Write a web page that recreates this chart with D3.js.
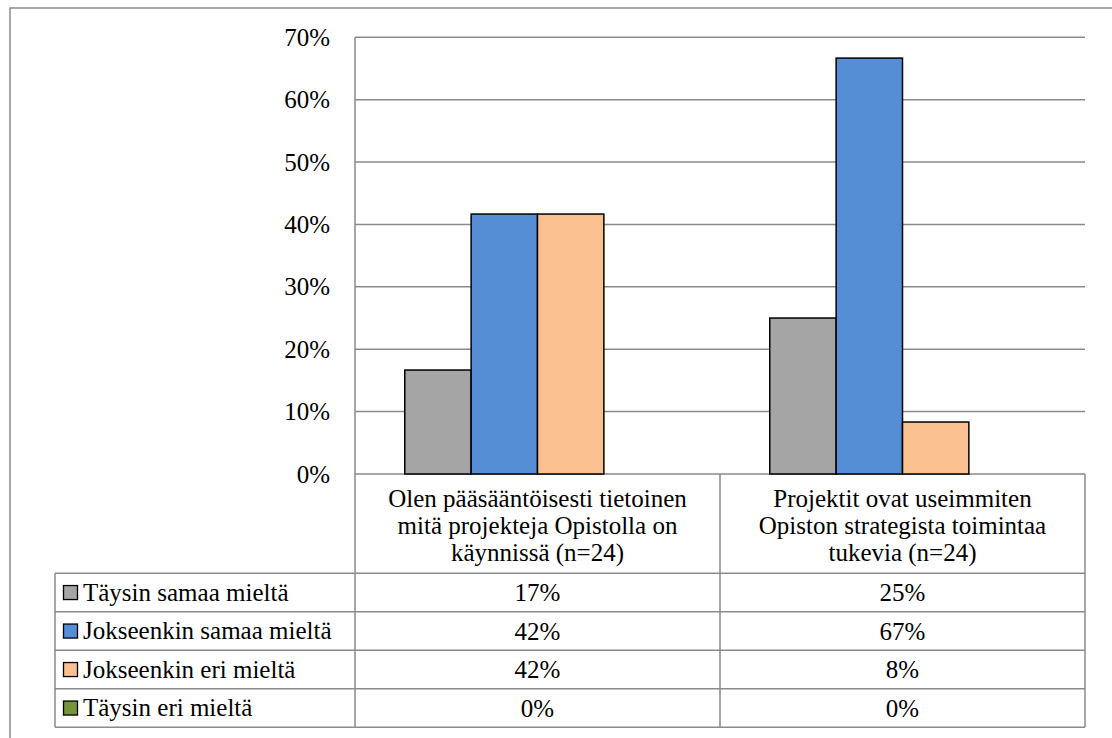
<!DOCTYPE html>
<html>
<head>
<meta charset="utf-8">
<script src="https://cdn.jsdelivr.net/npm/d3@7"></script>
</head>
<body style="margin:0">
<svg id="chart" width="1112" height="738" style="display:block"></svg>
<script>
// Survey statements (category axis), wrapped into lines for the data table header
const categories = [
  "Olen pääsääntöisesti tietoinen\nmitä projekteja Opistolla on\nkäynnissä (n=24)",
  "Projektit ovat useimmiten\nOpiston strategista toimintaa\ntukevia (n=24)"
];

// Answer options (series)
const seriesNames = [
  "Täysin samaa mieltä",
  "Jokseenkin samaa mieltä",
  "Jokseenkin eri mieltä",
  "Täysin eri mieltä"
];
const seriesColors = ["#a5a5a5", "#558ed5", "#fac090", "#77933c"];

// Share of respondents (n=24) per statement
const taysinSamaa     = [4 / 24, 6 / 24];
const jokseenkinSamaa = [10 / 24, 16 / 24];
const jokseenkinEri   = [10 / 24, 2 / 24];
const taysinEri       = [0, 0];
const seriesValues = [taysinSamaa, jokseenkinSamaa, jokseenkinEri, taysinEri];

// Value axis ticks
const yTicks = [0, 0.1, 0.2, 0.3, 0.4, 0.5, 0.6, 0.7];

const svg = d3.select("#chart");
const gridColor = "#8a8a8a";
const pct = d3.format(".0%");
const textCss = 'font: 25px "Times New Roman", "Liberation Serif", serif; fill: #000';

// Layout
const plotLeft = 355, plotRight = 1085, plotTop = 37.3, plotBottom = 474;
const headerBottom = 573.3, rowH = 38.5;
const tableLeft = 55;

const x = d3.scaleBand().domain(d3.range(categories.length)).range([plotLeft, plotRight]).padding(0);
const xs = d3.scaleBand().domain(d3.range(seriesNames.length)).range([0, x.bandwidth()])
  .paddingInner(0).paddingOuter(0.75);
const y = d3.scaleLinear().domain([0, 0.7]).range([plotBottom, plotTop]);

// Outer chart frame
svg.append("rect")
  .attr("x", 10).attr("y", 8).attr("width", 1200).attr("height", 800)
  .attr("fill", "none").attr("stroke", gridColor).attr("stroke-width", 1.5);

// Horizontal gridlines
svg.append("g").selectAll("line").data(yTicks).join("line")
  .attr("x1", plotLeft).attr("x2", plotRight)
  .attr("y1", d => y(d)).attr("y2", d => y(d))
  .attr("stroke", gridColor).attr("stroke-width", 1.5);

// Value axis line
svg.append("line")
  .attr("x1", plotLeft).attr("x2", plotLeft).attr("y1", y(0.7)).attr("y2", plotBottom)
  .attr("stroke", gridColor).attr("stroke-width", 1.5);

// Value axis labels
svg.append("g").selectAll("text").data(yTicks).join("text")
  .attr("x", 330).attr("y", d => y(d) + 8.5)
  .attr("text-anchor", "end")
  .attr("style", textCss)
  .text(d => pct(d));

// Bars
const barData = [];
seriesValues.forEach((vals, s) => vals.forEach((v, c) => barData.push({ s, c, v })));
svg.append("g").selectAll("rect").data(barData.filter(d => d.v > 0)).join("rect")
  .attr("x", d => x(d.c) + xs(d.s))
  .attr("width", xs.bandwidth())
  .attr("y", d => y(d.v))
  .attr("height", d => y(0) - y(d.v))
  .attr("fill", d => seriesColors[d.s])
  .attr("stroke", "#000").attr("stroke-width", 1.5);

// Data table
const table = svg.append("g");
const tableBottom = headerBottom + rowH * seriesNames.length;
const lineStyle = sel => sel.attr("stroke", gridColor).attr("stroke-width", 1.5);

// horizontal rules under header and each series row
d3.range(seriesNames.length + 1).forEach(i => {
  table.append("line")
    .attr("x1", tableLeft).attr("x2", plotRight)
    .attr("y1", headerBottom + i * rowH).attr("y2", headerBottom + i * rowH)
    .call(lineStyle);
});
// vertical rules
[plotLeft, ...x.domain().map(c => x(c) + x.bandwidth())].forEach(xv => {
  table.append("line").attr("x1", xv).attr("x2", xv)
    .attr("y1", plotBottom).attr("y2", tableBottom).call(lineStyle);
});
table.append("line").attr("x1", tableLeft).attr("x2", tableLeft)
  .attr("y1", headerBottom).attr("y2", tableBottom).call(lineStyle);

// category header text
categories.forEach((cat, c) => {
  const t = table.append("text")
    .attr("text-anchor", "middle")
    .attr("style", textCss);
  cat.split("\n").forEach((ln, i) => {
    t.append("tspan").attr("x", x(c) + x.bandwidth() / 2)
      .attr("y", plotBottom + 32.7 + i * 27.3).text(ln);
  });
});

// series rows: legend key, name and values
seriesNames.forEach((name, s) => {
  const cy = headerBottom + s * rowH + rowH / 2;
  table.append("rect")
    .attr("x", 63.5).attr("y", cy - 7).attr("width", 14).attr("height", 14)
    .attr("fill", seriesColors[s]).attr("stroke", "#000").attr("stroke-width", 1.3);
  table.append("text")
    .attr("x", 83).attr("y", cy + 8.3)
    .attr("style", textCss).text(name);
  seriesValues[s].forEach((v, c) => {
    table.append("text")
      .attr("x", x(c) + x.bandwidth() / 2).attr("y", cy + 8.5)
      .attr("text-anchor", "middle")
      .attr("style", textCss)
      .text(pct(v));
  });
});
</script>
</body>
</html>
